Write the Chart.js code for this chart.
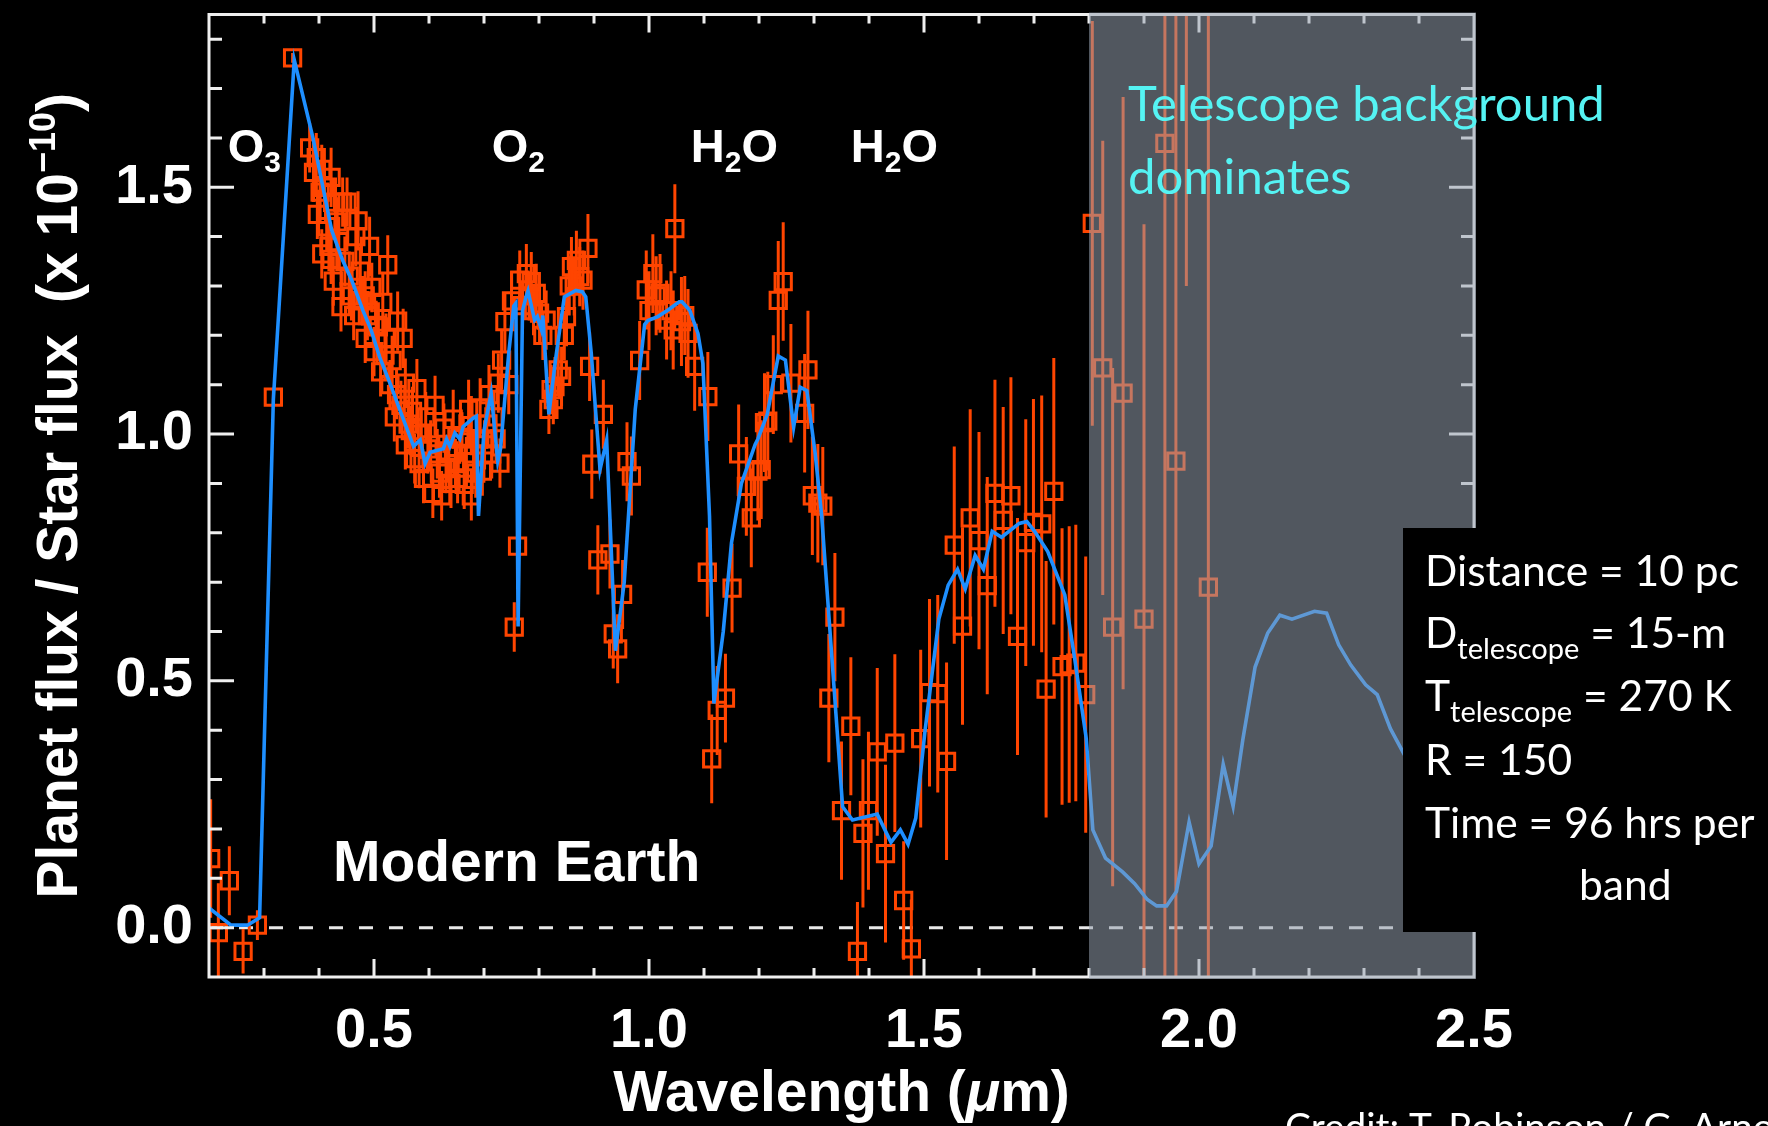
<!DOCTYPE html>
<html lang="en">
<head>
<meta charset="UTF-8">
<title>Modern Earth - planet / star flux</title>
<script src="https://cdn.jsdelivr.net/npm/chart.js"></script>
<style>
  html, body { margin: 0; padding: 0; background: #000; }
  .chart-box { width: 1768px; height: 1126px; position: relative; }
</style>
</head>
<body>
<div class="chart-box"><canvas id="spectrum"></canvas></div>
<script>
// model spectrum (blue line), wavelength in micron
const modelX = [
  0.200, 0.240, 0.270, 0.292, 0.317, 0.355, 0.389, 0.423, 0.443, 0.460,
  0.480, 0.495, 0.510, 0.530, 0.550, 0.572, 0.584, 0.593, 0.602, 0.626,
  0.632, 0.638, 0.647, 0.656, 0.662, 0.680, 0.686, 0.690, 0.700, 0.713,
  0.725, 0.730, 0.745, 0.754, 0.758, 0.762, 0.770, 0.777, 0.780, 0.792,
  0.797, 0.804, 0.807, 0.818, 0.830, 0.846, 0.867, 0.879, 0.885, 0.895,
  0.911, 0.923, 0.939, 0.955, 0.975, 0.992, 0.998, 1.016, 1.034, 1.055,
  1.060, 1.074, 1.089, 1.098, 1.110, 1.118, 1.135, 1.150, 1.168, 1.193,
  1.198, 1.215, 1.235, 1.248, 1.263, 1.275, 1.287, 1.302, 1.314, 1.352,
  1.370, 1.415, 1.440, 1.457, 1.471, 1.485, 1.502, 1.527, 1.544, 1.561,
  1.575, 1.593, 1.608, 1.624, 1.641, 1.673, 1.687, 1.701, 1.725, 1.756,
  1.774, 1.795, 1.807, 1.830, 1.861, 1.883, 1.906, 1.923, 1.941, 1.959,
  1.982, 2.000, 2.022, 2.044, 2.062, 2.080, 2.102, 2.125, 2.147, 2.169,
  2.210, 2.232, 2.254, 2.276, 2.303, 2.324, 2.348, 2.375, 2.400, 2.450
];
const modelY = [
  0.040, 0.005, 0.005, 0.020, 1.070, 1.758, 1.600, 1.413, 1.352, 1.310,
  1.250, 1.210, 1.157, 1.100, 1.040, 0.975, 0.988, 0.940, 0.963, 0.970,
  0.990, 0.975, 1.002, 0.990, 1.015, 1.032, 1.036, 0.834, 1.007, 1.083,
  0.945, 0.970, 1.164, 1.259, 1.265, 0.610, 1.250, 1.280, 1.290, 1.231,
  1.238, 1.213, 1.240, 1.040, 1.150, 1.278, 1.291, 1.288, 1.278, 1.164,
  0.928, 0.988, 0.561, 0.700, 1.050, 1.222, 1.230, 1.238, 1.251, 1.268,
  1.268, 1.251, 1.204, 1.143, 0.834, 0.454, 0.600, 0.780, 0.900, 0.979,
  0.990, 1.040, 1.158, 1.150, 1.014, 1.095, 1.088, 0.962, 0.834, 0.245,
  0.218, 0.230, 0.173, 0.198, 0.169, 0.222, 0.400, 0.625, 0.694, 0.726,
  0.686, 0.754, 0.726, 0.803, 0.791, 0.819, 0.823, 0.803, 0.762, 0.674,
  0.545, 0.383, 0.198, 0.141, 0.113, 0.089, 0.057, 0.044, 0.044, 0.073,
  0.214, 0.129, 0.165, 0.331, 0.246, 0.383, 0.528, 0.597, 0.633, 0.625,
  0.641, 0.637, 0.573, 0.532, 0.492, 0.472, 0.403, 0.347, 0.300, 0.250
];

// simulated observations (orange squares) and their 1-sigma errors
const obsX = [
  0.203, 0.217, 0.237, 0.262, 0.288, 0.317, 0.352, 0.383, 0.390, 0.395,
  0.397, 0.402, 0.405, 0.405, 0.410, 0.414, 0.418, 0.422, 0.422, 0.426,
  0.430, 0.433, 0.436, 0.440, 0.443, 0.447, 0.451, 0.455, 0.459, 0.463,
  0.467, 0.471, 0.475, 0.479, 0.484, 0.484, 0.488, 0.492, 0.496, 0.500,
  0.504, 0.508, 0.512, 0.516, 0.520, 0.522, 0.525, 0.529, 0.533, 0.537,
  0.541, 0.543, 0.549, 0.553, 0.557, 0.557, 0.562, 0.566, 0.570, 0.574,
  0.578, 0.582, 0.586, 0.590, 0.594, 0.598, 0.603, 0.607, 0.611, 0.615,
  0.619, 0.623, 0.627, 0.631, 0.636, 0.640, 0.644, 0.648, 0.652, 0.656,
  0.660, 0.664, 0.668, 0.672, 0.677, 0.677, 0.681, 0.685, 0.689, 0.693,
  0.697, 0.701, 0.705, 0.709, 0.714, 0.718, 0.722, 0.726, 0.729, 0.732,
  0.738, 0.745, 0.750, 0.755, 0.761, 0.765, 0.770, 0.777, 0.782, 0.786,
  0.790, 0.795, 0.801, 0.807, 0.813, 0.818, 0.822, 0.826, 0.829, 0.835,
  0.841, 0.846, 0.850, 0.855, 0.859, 0.864, 0.868, 0.874, 0.880, 0.889,
  0.892, 0.896, 0.907, 0.917, 0.929, 0.935, 0.943, 0.952, 0.960, 0.968,
  0.983, 0.995, 1.000, 1.007, 1.013, 1.020, 1.032, 1.040, 1.044, 1.047,
  1.059, 1.065, 1.071, 1.083, 1.107, 1.106, 1.114, 1.124, 1.139, 1.151,
  1.163, 1.177, 1.186, 1.198, 1.204, 1.210, 1.216, 1.226, 1.235, 1.244,
  1.258, 1.283, 1.289, 1.297, 1.307, 1.316, 1.327, 1.338, 1.350, 1.367,
  1.379, 1.389, 1.399, 1.415, 1.430, 1.447, 1.463, 1.477, 1.494, 1.510,
  1.525, 1.541, 1.555, 1.570, 1.584, 1.600, 1.615, 1.629, 1.644, 1.658,
  1.670, 1.685, 1.699, 1.714, 1.722, 1.736, 1.751, 1.764, 1.776, 1.794,
  1.806, 1.825, 1.843, 1.862, 1.900, 1.938, 1.958, 1.977, 2.017
];
const obsY = [
  0.140, -0.010, 0.095, -0.048, 0.005, 1.075, 1.762, 1.580, 1.530, 1.560,
  1.445, 1.490, 1.536, 1.365, 1.500, 1.420, 1.380, 1.520, 1.354, 1.310,
  1.470, 1.430, 1.390, 1.258, 1.470, 1.350, 1.470, 1.320, 1.280, 1.240,
  1.400, 1.432, 1.330, 1.270, 1.280, 1.194, 1.240, 1.380, 1.297, 1.167,
  1.220, 1.217, 1.126, 1.267, 1.160, 1.194, 1.343, 1.100, 1.149, 1.035,
  1.080, 1.229, 1.058, 1.194, 1.103, 0.978, 1.020, 1.007, 1.046, 0.950,
  1.092, 0.940, 1.000, 0.910, 1.035, 0.970, 0.978, 0.880, 1.058, 0.960,
  0.921, 0.875, 1.012, 0.930, 0.966, 0.900, 1.030, 0.940, 0.910, 0.990,
  0.994, 0.898, 0.944, 1.050, 1.017, 0.875, 0.960, 0.921, 0.990, 1.053,
  0.925, 0.978, 1.020, 1.080, 0.960, 1.035, 0.990, 1.103, 0.941, 1.150,
  1.228, 1.100, 1.270, 0.609, 0.773, 1.312, 1.260, 1.325, 1.280, 1.309,
  1.250, 1.285, 1.245, 1.200, 1.231, 1.050, 1.090, 1.070, 1.096, 1.130,
  1.117, 1.200, 1.238, 1.300, 1.339, 1.300, 1.352, 1.319, 1.312, 1.376,
  1.137, 0.939, 0.745, 1.040, 0.757, 0.595, 0.565, 0.675, 0.944, 0.915,
  1.149, 1.292, 1.250, 1.325, 1.280, 1.285, 1.231, 1.250, 1.211, 1.416,
  1.228, 1.240, 1.204, 1.137, 1.076, 0.720, 0.342, 0.440, 0.465, 0.688,
  0.960, 0.894, 0.830, 0.925, 0.928, 1.023, 1.026, 1.100, 1.271, 1.309,
  1.103, 1.042, 1.130, 0.875, 0.860, 0.854, 0.465, 0.629, 0.237, 0.408,
  -0.048, 0.191, 0.237, 0.356, 0.150, 0.374, 0.055, -0.043, 0.383, 0.476,
  0.474, 0.337, 0.775, 0.611, 0.830, 0.784, 0.693, 0.880, 0.825, 0.875,
  0.590, 0.780, 0.821, 0.818, 0.483, 0.884, 0.529, 0.533, 0.536, 0.472,
  1.427, 1.134, 0.609, 1.083, 0.625, 1.589, 0.945, 2.300, 0.690
];
const obsErr = [
  0.120, 0.100, 0.070, 0.045, 0.030, 0.015, 0.010, 0.05, 0.06, 0.05,
  0.05, 0.06, 0.05, 0.05, 0.05, 0.05, 0.05, 0.06, 0.05, 0.05,
  0.05, 0.05, 0.05, 0.05, 0.05, 0.05, 0.05, 0.05, 0.05, 0.05,
  0.06, 0.06, 0.05, 0.05, 0.05, 0.05, 0.05, 0.06, 0.05, 0.05,
  0.05, 0.05, 0.05, 0.06, 0.05, 0.05, 0.06, 0.05, 0.05, 0.05,
  0.05, 0.06, 0.05, 0.06, 0.05, 0.05, 0.05, 0.05, 0.05, 0.05,
  0.06, 0.05, 0.05, 0.05, 0.05, 0.05, 0.05, 0.05, 0.06, 0.05,
  0.05, 0.05, 0.05, 0.05, 0.05, 0.05, 0.06, 0.05, 0.05, 0.05,
  0.05, 0.05, 0.05, 0.06, 0.06, 0.05, 0.05, 0.05, 0.05, 0.06,
  0.05, 0.05, 0.05, 0.06, 0.05, 0.05, 0.05, 0.06, 0.05, 0.06,
  0.06, 0.06, 0.06, 0.05, 0.05, 0.06, 0.05, 0.06, 0.05, 0.06,
  0.05, 0.06, 0.06, 0.05, 0.06, 0.05, 0.05, 0.05, 0.06, 0.05,
  0.06, 0.05, 0.06, 0.06, 0.06, 0.06, 0.06, 0.06, 0.06, 0.07,
  0.07, 0.07, 0.07, 0.07, 0.07, 0.07, 0.07, 0.07, 0.08, 0.08,
  0.08, 0.08, 0.08, 0.08, 0.08, 0.08, 0.08, 0.08, 0.08, 0.09,
  0.09, 0.08, 0.09, 0.09, 0.09, 0.09, 0.09, 0.09, 0.09, 0.09,
  0.10, 0.10, 0.10, 0.10, 0.10, 0.10, 0.10, 0.10, 0.12, 0.12,
  0.12, 0.12, 0.12, 0.12, 0.12, 0.12, 0.13, 0.13, 0.14, 0.14,
  0.10, 0.15, 0.16, 0.17, 0.18, 0.18, 0.12, 0.10, 0.18, 0.19,
  0.20, 0.20, 0.20, 0.20, 0.22, 0.22, 0.22, 0.23, 0.23, 0.24,
  0.24, 0.25, 0.25, 0.26, 0.26, 0.27, 0.28, 0.28, 0.28, 0.28,
  0.41, 0.46, 0.525, 0.60, 0.80, 1.70, 1.10, 1.00, 1.50
];

const xTickValues = [0.5, 1.0, 1.5, 2.0, 2.5];
const yTickValues = [0.0, 0.5, 1.0, 1.5];
const backgroundStart = 1.8; // telescope thermal background takes over from here

const HELV = "'Liberation Sans', Arial, Helvetica, sans-serif";
const SOFT = "Lato, 'Open Sans', sans-serif";
const bold = (px, italic) => (italic ? 'italic ' : '') + 'bold ' + px + 'px ' + HELV;
const soft = px => px.toFixed(2) + 'px ' + SOFT;

// draw pieces of text one after another (for sub/superscripts)
function drawRuns(ctx, x, y, runs) {
  runs.forEach(([text, font, dy]) => {
    ctx.font = font;
    ctx.fillText(text, x, y + (dy || 0));
    x += ctx.measureText(text).width;
  });
  return x;
}
function runsWidth(ctx, runs) {
  let w = 0;
  runs.forEach(([text, font]) => { ctx.font = font; w += ctx.measureText(text).width; });
  return w;
}
function fitSize(ctx, text, width) {
  ctx.font = '100px ' + SOFT;
  return 100 * width / ctx.measureText(text).width;
}

const decorations = {
  id: 'decorations',
  beforeDraw(chart) {
    const ctx = chart.ctx;
    ctx.save();
    ctx.fillStyle = '#000';
    ctx.fillRect(0, 0, chart.width, chart.height);
    ctx.restore();
  },
  beforeDatasetsDraw(chart) {
    const { ctx, chartArea: a, scales: { x, y } } = chart;
    ctx.save();
    // dashed zero line
    ctx.strokeStyle = '#e8e8e8';
    ctx.lineWidth = 3;
    ctx.setLineDash([14, 16]);
    ctx.beginPath();
    ctx.moveTo(a.left, y.getPixelForValue(0));
    ctx.lineTo(a.right, y.getPixelForValue(0));
    ctx.stroke();
    ctx.setLineDash([]);
    // error bars
    ctx.beginPath();
    ctx.rect(a.left, a.top, a.width, a.height);
    ctx.clip();
    ctx.strokeStyle = '#ff4500';
    ctx.lineWidth = 3;
    ctx.beginPath();
    obsX.forEach((wl, i) => {
      const px = x.getPixelForValue(wl);
      ctx.moveTo(px, y.getPixelForValue(obsY[i] + obsErr[i]));
      ctx.lineTo(px, y.getPixelForValue(obsY[i] - obsErr[i]));
    });
    ctx.stroke();
    ctx.restore();
  },
  afterDatasetsDraw(chart) {
    const { ctx, chartArea: a, scales: { x, y } } = chart;
    ctx.save();
    ctx.strokeStyle = '#efefef';
    ctx.lineWidth = 3;
    ctx.strokeRect(a.left, a.top, a.width, a.height);
    ctx.beginPath();
    // inward ticks, every 0.1, longer on labelled values
    for (let k = 3; k < 25; k++) {
      const v = k / 10, px = x.getPixelForValue(v);
      const len = k % 5 === 0 ? 18 : 9;
      ctx.moveTo(px, a.bottom); ctx.lineTo(px, a.bottom - len);
      ctx.moveTo(px, a.top); ctx.lineTo(px, a.top + len);
    }
    for (let k = 0; k <= 18; k++) {
      const v = k / 10, py = y.getPixelForValue(v);
      const len = k % 5 === 0 ? 25 : 13;
      ctx.moveTo(a.left, py); ctx.lineTo(a.left + len, py);
      ctx.moveTo(a.right, py); ctx.lineTo(a.right - len, py);
    }
    ctx.stroke();
    // grey veil over the background-dominated range
    const gx = x.getPixelForValue(backgroundStart);
    ctx.fillStyle = 'rgba(150,161,176,0.54)';
    ctx.fillRect(gx, a.top - 2, a.right + 2 - gx, a.height + 4);
    ctx.restore();
  },
  afterDraw(chart) {
    const { ctx, chartArea: a, scales: { x } } = chart;
    ctx.save();
    ctx.textAlign = 'left';
    ctx.textBaseline = 'alphabetic';
    ctx.fillStyle = '#fff';

    // molecule labels
    const molecules = [
      { at: 0.234, runs: [['O', bold(47)], ['3', bold(30), 10]] },
      { at: 0.714, runs: [['O', bold(47)], ['2', bold(30), 10]] },
      { at: 1.076, runs: [['H', bold(47)], ['2', bold(30), 10], ['O', bold(47)]] },
      { at: 1.367, runs: [['H', bold(47)], ['2', bold(30), 10], ['O', bold(47)]] }
    ];
    molecules.forEach(m => drawRuns(ctx, x.getPixelForValue(m.at), 162, m.runs));
    drawRuns(ctx, 333, 881, [['Modern Earth', bold(57)]]);

    // axis titles
    const xt = [['Wavelength (', bold(57)], ['\u03bc', bold(57, true)], ['m)', bold(57)]];
    drawRuns(ctx, (a.left + a.right) / 2 - runsWidth(ctx, xt) / 2, 1111, xt);
    ctx.save();
    ctx.translate(77, (a.top + a.bottom) / 2);
    ctx.rotate(-Math.PI / 2);
    const yt = [['Planet flux / Star flux  (x 10', bold(57)], ['\u221210', bold(36), -22], [')', bold(57)]];
    drawRuns(ctx, -runsWidth(ctx, yt) / 2, 0, yt);
    ctx.restore();

    // cyan note
    const tSize = fitSize(ctx, 'Telescope background', 477);
    ctx.fillStyle = '#55f3f3';
    drawRuns(ctx, 1128, 121, [['Telescope background', soft(tSize)]]);
    drawRuns(ctx, 1128, 194, [['dominates', soft(tSize)]]);

    // parameter box
    ctx.fillStyle = '#000';
    ctx.fillRect(1403, 528, chart.width - 1403, 404);
    ctx.fillStyle = '#fff';
    const S = fitSize(ctx, 'Distance = 10 pc', 314);
    const s2 = fitSize(ctx, 'telescope', 122);
    drawRuns(ctx, 1425, 586, [['Distance = 10 pc', soft(S)]]);
    drawRuns(ctx, 1425, 648, [['D', soft(S)], ['telescope', soft(s2), 11], [' = 15-m', soft(S)]]);
    drawRuns(ctx, 1425, 711, [['T', soft(S)], ['telescope', soft(s2), 11], [' = 270 K', soft(S)]]);
    drawRuns(ctx, 1425, 775, [['R = 150', soft(S)]]);
    drawRuns(ctx, 1425, 838, [['Time = 96 hrs per', soft(S)]]);
    drawRuns(ctx, 1579, 900, [['band', soft(S)]]);

    // credit line, cut by the bottom edge
    const cSize = fitSize(ctx, 'Credit: T. Robinson / G. Arn', 468);
    drawRuns(ctx, 1285, 1113 + cSize * 0.72, [['Credit: T. Robinson / G. Arney', soft(cSize)]]);
    ctx.restore();
  }
};

const tickFont = { family: HELV, size: 56, weight: 'bold' };

new Chart(document.getElementById('spectrum'), {
  type: 'scatter',
  data: {
    datasets: [
      {
        label: 'Model',
        data: modelX.map((wl, i) => ({ x: wl, y: modelY[i] })),
        showLine: true,
        borderColor: '#1e8fff',
        borderWidth: 3.6,
        pointRadius: 0,
        tension: 0,
        clip: 0
      },
      {
        label: 'Simulated data',
        data: obsX.map((wl, i) => ({ x: wl, y: obsY[i] })),
        pointStyle: 'rect',
        pointRadius: 11.5,
        borderWidth: 3,
        borderColor: '#ff4500',
        backgroundColor: 'rgba(0,0,0,0)',
        clip: 0
      }
    ]
  },
  options: {
    responsive: true,
    maintainAspectRatio: false,
    animation: false,
    events: [],
    layout: { padding: { top: 13, right: 294, bottom: 0, left: 0 } },
    plugins: { legend: { display: false }, tooltip: { enabled: false } },
    scales: {
      x: {
        type: 'linear',
        min: 0.2,
        max: 2.5,
        afterBuildTicks: s => { s.ticks = xTickValues.map(v => ({ value: v })); },
        afterFit: s => { s.height = 149; s.paddingLeft = 0; s.paddingRight = 0; },
        grid: { display: false, drawTicks: false },
        border: { display: false },
        ticks: {
          color: '#fff', font: tickFont, padding: 21, maxRotation: 0, autoSkip: false,
          callback: v => Number(v).toFixed(1)
        }
      },
      y: {
        type: 'linear',
        min: -0.1,
        max: 1.85,
        afterBuildTicks: s => { s.ticks = yTickValues.map(v => ({ value: v })); },
        afterFit: s => { s.width = 209; s.paddingTop = 0; s.paddingBottom = 0; },
        grid: { display: false, drawTicks: false },
        border: { display: false },
        ticks: {
          color: '#fff', font: tickFont, padding: 16, autoSkip: false,
          callback: v => Number(v).toFixed(1)
        }
      }
    }
  },
  plugins: [decorations]
});
</script>
</body>
</html>
